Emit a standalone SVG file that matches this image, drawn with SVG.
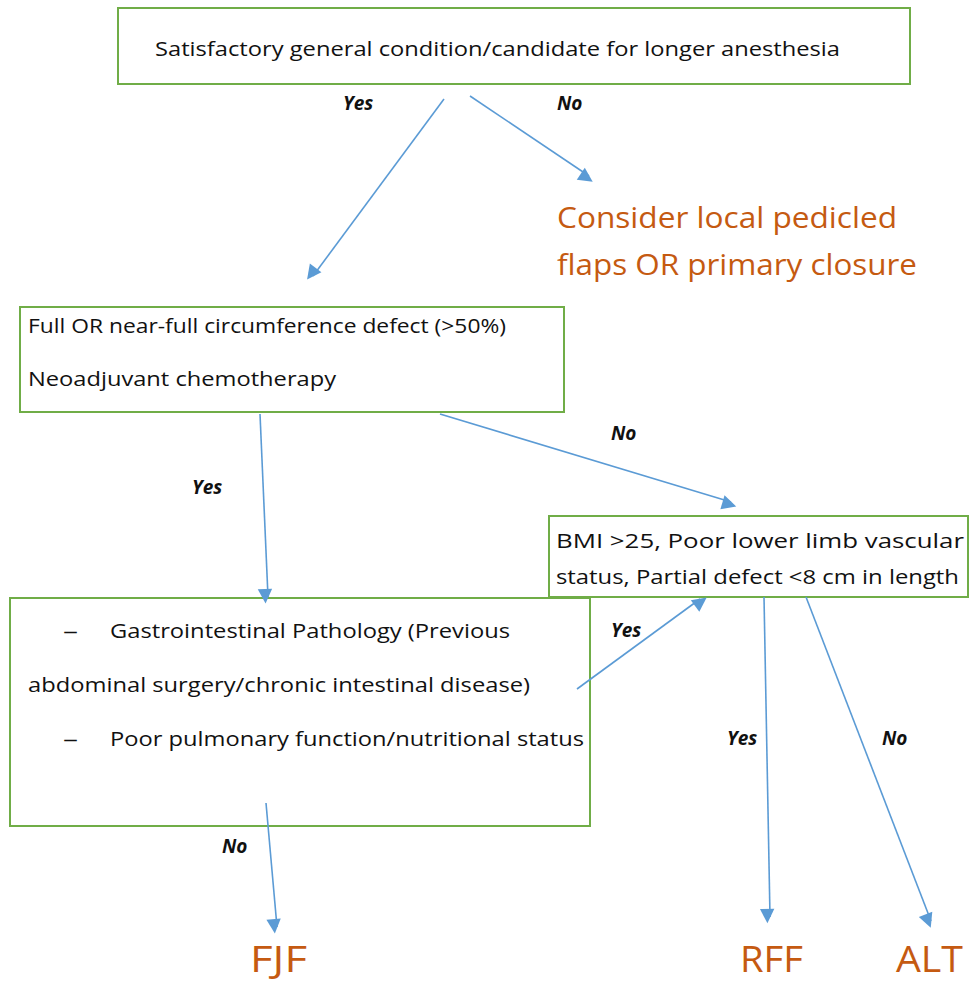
<svg xmlns="http://www.w3.org/2000/svg" width="971" height="983" viewBox="0 0 971 983">
<style>
.box{fill:#fff;stroke:#70AD47;stroke-width:2}
.t{font-family:"Open Sans","Liberation Sans",sans-serif;font-size:20px;fill:#111}
.lbl{font-family:"Open Sans","Liberation Sans",sans-serif;font-size:19px;font-weight:bold;font-style:italic;fill:#111}
.out{font-family:"Open Sans","Liberation Sans",sans-serif;fill:#C55A11}
.c{stroke:#5B9BD5;stroke-width:1.6;fill:none;marker-end:url(#ah)}
</style>
<defs>
<marker id="ah" viewBox="0 0 10 10" refX="9" refY="5" markerWidth="9" markerHeight="9" markerUnits="userSpaceOnUse" orient="auto" overflow="visible">
<path d="M0,0 L10,5 L0,10 z" fill="#5B9BD5" transform="scale(1.6)"/>
</marker>
</defs>
<rect width="971" height="983" fill="#fff"/>
<g id="n1">
<rect class="box" x="118" y="8" width="792" height="76"/>
<text class="t" x="155" y="56" textLength="685" lengthAdjust="spacingAndGlyphs">Satisfactory general condition/candidate for longer anesthesia</text>
</g>
<g id="n2">
<text class="out" font-size="30" x="557" y="228" textLength="340" lengthAdjust="spacingAndGlyphs">Consider local pedicled</text>
<text class="out" font-size="30" x="557" y="275" textLength="360" lengthAdjust="spacingAndGlyphs">flaps OR primary closure</text>
</g>
<g id="n3">
<rect class="box" x="20" y="307" width="544" height="105"/>
<text class="t" x="28" y="333" textLength="478" lengthAdjust="spacingAndGlyphs">Full OR near-full circumference defect (&gt;50%)</text>
<text class="t" x="28" y="386" textLength="308" lengthAdjust="spacingAndGlyphs">Neoadjuvant chemotherapy</text>
</g>
<g id="n4">
<rect class="box" x="549" y="516" width="419" height="81"/>
<text class="t" x="556" y="548" textLength="408" lengthAdjust="spacingAndGlyphs">BMI &gt;25, Poor lower limb vascular</text>
<text class="t" x="556" y="584" textLength="403" lengthAdjust="spacingAndGlyphs">status, Partial defect &lt;8 cm in length</text>
</g>
<g id="n5">
<rect class="box" x="10" y="598" width="580" height="228"/>
<text class="t" x="63" y="638" textLength="15" lengthAdjust="spacingAndGlyphs">–</text>
<text class="t" x="110" y="638" textLength="400" lengthAdjust="spacingAndGlyphs">Gastrointestinal Pathology (Previous</text>
<text class="t" x="28" y="692" textLength="502" lengthAdjust="spacingAndGlyphs">abdominal surgery/chronic intestinal disease)</text>
<text class="t" x="63" y="746" textLength="15" lengthAdjust="spacingAndGlyphs">–</text>
<text class="t" x="110" y="746" textLength="474" lengthAdjust="spacingAndGlyphs">Poor pulmonary function/nutritional status</text>
</g>
<g id="n6"><text class="out" font-size="36" x="250" y="972" textLength="57" lengthAdjust="spacingAndGlyphs">FJF</text></g>
<g id="n7"><text class="out" font-size="36" x="740" y="972" textLength="63" lengthAdjust="spacingAndGlyphs">RFF</text></g>
<g id="n8"><text class="out" font-size="36" x="896" y="972" textLength="67" lengthAdjust="spacingAndGlyphs">ALT</text></g>
<g id="connectors">
<line class="c" x1="444" y1="99" x2="313" y2="276"/>
<line class="c" x1="470" y1="96" x2="589" y2="176"/>
<line class="c" x1="260" y1="414" x2="268" y2="597"/>
<line class="c" x1="440" y1="414" x2="731" y2="502"/>
<line class="c" x1="577" y1="689" x2="700" y2="599"/>
<line class="c" x1="764" y1="597" x2="770" y2="917"/>
<line class="c" x1="806" y1="597" x2="931" y2="921"/>
<line class="c" x1="266" y1="803" x2="277" y2="927"/>
</g>
<g id="labels">
<text class="lbl" x="343" y="110">Yes</text>
<text class="lbl" x="557" y="110">No</text>
<text class="lbl" x="192" y="494">Yes</text>
<text class="lbl" x="611" y="440">No</text>
<text class="lbl" x="611" y="637">Yes</text>
<text class="lbl" x="727" y="745">Yes</text>
<text class="lbl" x="882" y="745">No</text>
<text class="lbl" x="222" y="853">No</text>
</g>
</svg>
